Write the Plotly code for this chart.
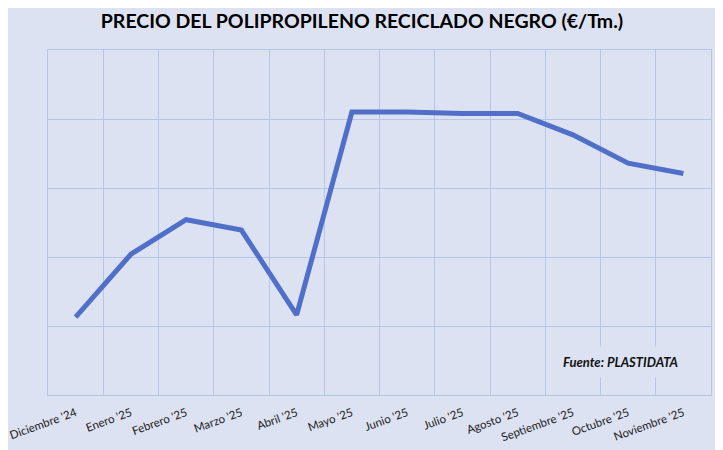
import plotly.graph_objects as go

# datos (eje sin etiquetas, escala aproximada)
meses = ["Diciembre '24", "Enero '25", "Febrero '25", "Marzo '25", "Abril '25", "Mayo '25",
         "Junio '25", "Julio '25", "Agosto '25", "Septiembre '25", "Octubre '25", "Noviembre '25"]
precio = [513, 604, 654, 639, 516, 810, 810, 808, 808, 777, 736, 721]

bg = "#dde2f2"
grid = "#b6c6e8"

fig = go.Figure()
fig.add_trace(go.Scatter(
    x=meses, y=precio, mode="lines",
    line=dict(color="#4f6fc8", width=5),
    hoverinfo="x+y"
))

# la pagina tiene 8px de margen en el body, se compensa aqui
fig.update_layout(
    width=723, height=450,
    paper_bgcolor=bg, plot_bgcolor=bg,
    margin=dict(l=40, r=20, t=42, b=63, autoexpand=False),
    showlegend=False,
    font=dict(family="Lato, sans-serif", color="#222222"),
    title=dict(
        text="<b>PRECIO DEL POLIPROPILENO RECICLADO NEGRO (€/Tm.)</b>",
        x=0.4896, xanchor="center", y=0.97, yanchor="middle",
        font=dict(size=19.5, color="#000000", family="Lato, sans-serif"),
    ),
)
fig.update_xaxes(
    type="category", range=[-0.5, 11.5], tickson="boundaries",
    showgrid=True, gridcolor=grid, gridwidth=1,
    showline=True, linecolor=grid, mirror=True,
    automargin=False, ticklabelstandoff=6,
    ticks="", tickangle=-20, tickfont=dict(size=11.5, color="#222222", family="Lato, sans-serif"),
)
fig.update_yaxes(
    range=[400, 900], dtick=100,
    showgrid=True, gridcolor=grid, gridwidth=1,
    showline=True, linecolor=grid, mirror=True,
    automargin=False,
    showticklabels=False, zeroline=False, ticks="",
)

fig.add_annotation(
    text="<b><i>Fuente: PLASTIDATA</i></b>",
    xref="paper", yref="paper", x=0.863, y=0.096, xanchor="center", yanchor="middle",
    showarrow=False, bgcolor=bg, borderpad=7,
    font=dict(size=13, color="#111111", family="Lato, sans-serif"),
)

fig.write_html("out.html")
